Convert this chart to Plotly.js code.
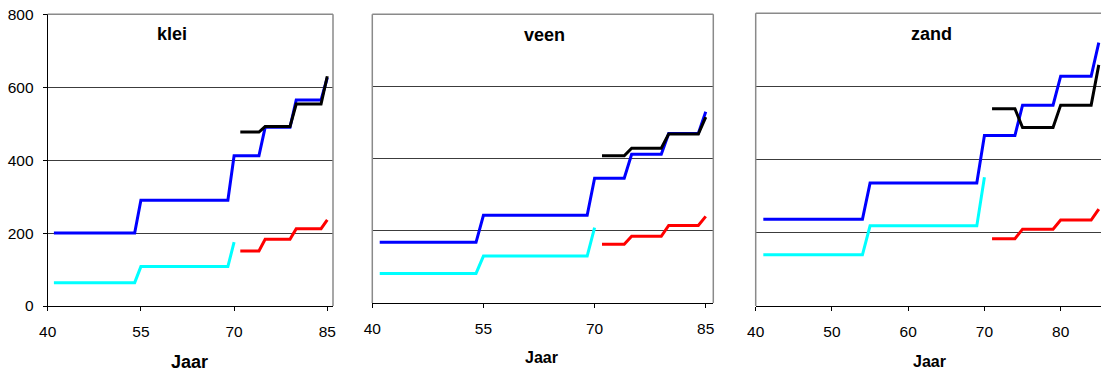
<!DOCTYPE html>
<html>
<head>
<meta charset="utf-8">
<script src="https://cdn.plot.ly/plotly-3.0.1.min.js"></script>
<style>
  html, body { margin: 0; padding: 0; background: #ffffff; }
  #chart { width: 1101px; height: 374px; }
</style>
</head>
<body>
<div id="chart"></div>
<script>
// Years
const yearsAll  = [41,42,43,44,45,46,47,48,49,50,51,52,53,54,55,56,57,58,59,60,61,62,63,64,65,66,67,68,69,70,71,72,73,74,75,76,77,78,79,80,81,82,83,84,85];
const yearsEarly = [41,42,43,44,45,46,47,48,49,50,51,52,53,54,55,56,57,58,59,60,61,62,63,64,65,66,67,68,69,70];
const yearsLate  = [71,72,73,74,75,76,77,78,79,80,81,82,83,84,85];

// klei
const kleiBlue  = [200,200,200,200,200,200,200,200,200,200,200,200,200,200,290,290,290,290,290,290,290,290,290,290,290,290,290,290,290,412,412,412,412,412,490,490,490,490,490,565,565,565,565,565,626];
const kleiCyan  = [64,64,64,64,64,64,64,64,64,64,64,64,64,64,108,108,108,108,108,108,108,108,108,108,108,108,108,108,108,175];
const kleiBlack = [477,477,477,477,492,492,492,492,492,554,554,554,554,554,630];
const kleiRed   = [151,151,151,151,183,183,183,183,183,212,212,212,212,212,236];

// veen
const veenBlue  = [168,168,168,168,168,168,168,168,168,168,168,168,168,168,243,243,243,243,243,243,243,243,243,243,243,243,243,243,243,346,346,346,346,346,412,412,412,412,412,470,470,470,470,470,530];
const veenCyan  = [82,82,82,82,82,82,82,82,82,82,82,82,82,82,130,130,130,130,130,130,130,130,130,130,130,130,130,130,130,209];
const veenBlack = [408,408,408,408,429,429,429,429,429,468,468,468,468,468,515];
const veenRed   = [163,163,163,163,185,185,185,185,185,215,215,215,215,215,240];

// zand
const zandBlue  = [237,237,237,237,237,237,237,237,237,237,237,237,237,237,336,336,336,336,336,336,336,336,336,336,336,336,336,336,336,466,466,466,466,466,549,549,549,549,549,628,628,628,628,628,720];
const zandCyan  = [140,140,140,140,140,140,140,140,140,140,140,140,140,140,219,219,219,219,219,219,219,219,219,219,219,219,219,219,219,352];
const zandBlack = [539,539,539,539,488,488,488,488,488,549,549,549,549,549,659];
const zandRed   = [184,184,184,184,210,210,210,210,210,235,235,235,235,235,265];

const panelNames = ['klei', 'veen', 'zand'];
const yTicks = [0, 200, 400, 600, 800];
const xTicksShort = [40, 55, 70, 85];
const xTicksZand = [40, 50, 60, 70, 80];

const FONT = 'Liberation Sans, Arial, sans-serif';
const LW = 3;

function line(x, y, color, ax) {
  return {
    type: 'scatter', mode: 'lines', x: x, y: y,
    xaxis: 'x' + ax, yaxis: 'y' + ax,
    line: { color: color, width: LW },
    hoverinfo: 'skip', showlegend: false
  };
}

const sets = [
  [kleiBlue, kleiCyan, kleiBlack, kleiRed],
  [veenBlue, veenCyan, veenBlack, veenRed],
  [zandBlue, zandCyan, zandBlack, zandRed]
];

const traces = [];
sets.forEach((s, i) => {
  const ax = i === 0 ? '' : String(i + 1);
  traces.push(line(yearsAll, s[0], '#0000ff', ax));
  traces.push(line(yearsEarly, s[1], '#00ffff', ax));
  traces.push(line(yearsLate, s[2], '#000000', ax));
  traces.push(line(yearsLate, s[3], '#ff0000', ax));
});

const W = 1101, H = 374;
const GRID = '#3c3c3c';
const BORDER = '#8a8a8a';

function xAxis(domain, range, ticks) {
  return {
    domain: domain, range: range, tickvals: ticks,
    ticktext: ticks.map(String),
    showgrid: false, zeroline: false,
    showline: true, linecolor: '#000000', linewidth: 1,
    ticks: 'outside', ticklen: 4, tickcolor: '#000000', tickwidth: 1,
    ticklabelstandoff: 7,
    tickfont: { family: FONT, size: 15.5, color: '#000000' },
    fixedrange: true
  };
}
function yAxis(domain, anchor, labels) {
  return {
    domain: domain, anchor: anchor, range: [0, 800], tickvals: yTicks,
    ticktext: yTicks.map(String),
    showgrid: true, gridcolor: GRID, gridwidth: 1,
    zeroline: false,
    showline: labels, linecolor: '#000000', linewidth: 1,
    ticks: labels ? 'outside' : '', ticklen: 4, tickcolor: '#000000',
    showticklabels: labels, ticklabelstandoff: 6,
    tickfont: { family: FONT, size: 15.5, color: '#000000' },
    fixedrange: true
  };
}

const xd1 = [47.7 / W, 333 / W];
const xd2 = [372.3 / W, 713.3 / W];
const xd3 = [755.7 / W, 1];
const yd1 = [(H - 306) / H, (H - 14.3) / H];
const yd2 = [(H - 303) / H, (H - 14.3) / H];
const yd3 = [(H - 306) / H, (H - 13.3) / H];

// thin grey frame edges around each plot area (bottom edge is the black axis line)
function edge(ax, x0, y0, x1, y1) {
  return {
    type: 'line', xref: 'x' + ax + ' domain', yref: 'y' + ax + ' domain',
    x0: x0, y0: y0, x1: x1, y1: y1,
    line: { color: BORDER, width: 1.5 }, layer: 'above'
  };
}
const shapes = [
  edge('', 0, 1, 1, 1), edge('', 1, 0, 1, 1),
  edge('2', 0, 1, 1, 1), edge('2', 1, 0, 1, 1), edge('2', 0, 0, 0, 1),
  edge('3', 0, 1, 1, 1), edge('3', 0, 0, 0, 1)
];

function label(text, x, y, size) {
  return {
    text: '<b>' + text + '</b>', xref: 'paper', yref: 'paper',
    x: x / W, y: (H - y) / H, xanchor: 'center', yanchor: 'middle',
    showarrow: false, font: { family: FONT, size: size, color: '#000000' }
  };
}
const annotations = [
  label(panelNames[0], 172.3, 34.3, 18),
  label(panelNames[1], 544, 35, 18),
  label(panelNames[2], 931, 34, 18),
  label('Jaar', 189, 361.7, 18),
  label('Jaar', 541.7, 357.7, 16),
  label('Jaar', 929.3, 361, 16)
];

const layout = {
  width: W, height: H,
  margin: { l: 0, r: 0, t: 0, b: 0, pad: 0 },
  paper_bgcolor: '#ffffff', plot_bgcolor: '#ffffff',
  showlegend: false,
  xaxis:  Object.assign(xAxis(xd1, [40, 85.92], xTicksShort), { anchor: 'y' }),
  yaxis:  yAxis(yd1, 'x', true),
  xaxis2: Object.assign(xAxis(xd2, [40, 86.02], xTicksShort), { anchor: 'y2' }),
  yaxis2: yAxis(yd2, 'x2', false),
  xaxis3: Object.assign(xAxis(xd3, [40, 85.29], xTicksZand), { anchor: 'y3' }),
  yaxis3: yAxis(yd3, 'x3', false),
  shapes: shapes,
  annotations: annotations
};

Plotly.newPlot('chart', traces, layout, { staticPlot: true, displayModeBar: false });
</script>
</body>
</html>
